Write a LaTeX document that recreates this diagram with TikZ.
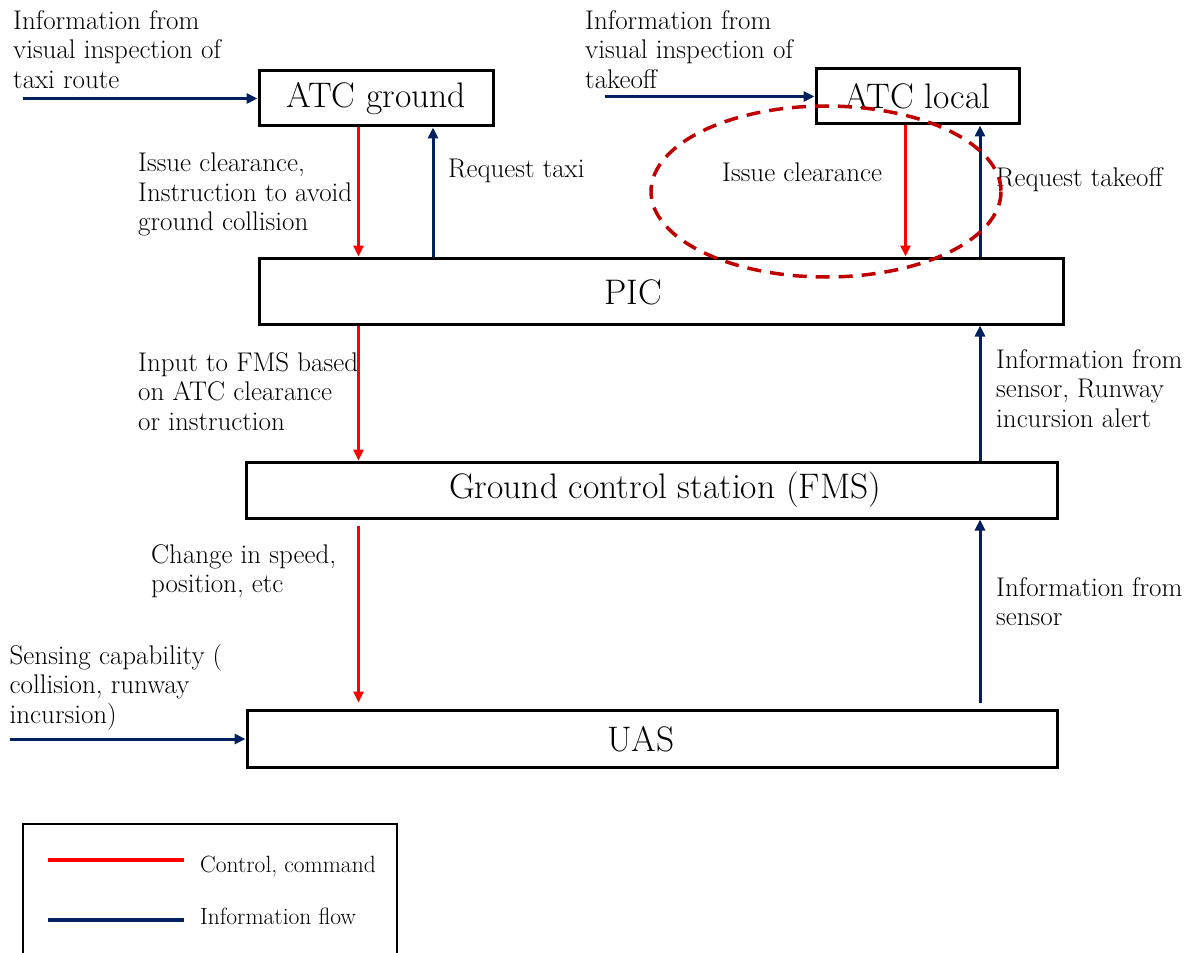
\documentclass[tikz,border=0pt]{standalone}
\usetikzlibrary{arrows.meta}
\definecolor{navy}{RGB}{0,32,96}
\definecolor{dred}{RGB}{192,0,0}
\begin{document}
\begin{tikzpicture}[x=1pt,y=-1pt,
  box/.style={draw, line width=3pt, inner sep=0pt, fill=white},
  ctrl/.style={draw=red, line width=2.5pt, -{Triangle[length=11pt,width=10pt]}},
  info/.style={draw=navy, line width=3pt, -{Triangle[length=11pt,width=10pt]}},
  lbl/.style={anchor=north west, inner sep=0pt, align=left, font=\fontsize{27}{29.5}\selectfont},
  big/.style={font=\fontsize{35.5}{40}\selectfont},
  leg/.style={anchor=base west, inner sep=0pt, font=\fontsize{23.5}{27}\selectfont},
]
\useasboundingbox (0,0) rectangle (1198,952);

% boxes
\node[box, big, minimum width=234pt, minimum height=55pt] (atcg) at (376,98.5) {ATC ground};
\node[box, big, minimum width=203pt, minimum height=55pt] (atcl) at (917.5,96.5) {ATC local};
\node[box, minimum width=804pt, minimum height=66pt] (pic) at (661,291) {};
\node[big] (pictxt) at (633,292) {PIC};
\node[box, minimum width=811pt, minimum height=56pt] (gcs) at (651.5,490) {};
\node[big] (gcstxt) at (665,490) {Ground control station (FMS)};
\node[box, minimum width=810pt, minimum height=57pt] (uas) at (652,738.5) {};
\node[big] (uastxt) at (641,739) {UAS};

% column coordinates
\coordinate (c1) at (358.5,0);
\coordinate (c2) at (433,0);
\coordinate (c3) at (905.5,0);
\coordinate (c4) at (980,0);

% free ends
\coordinate (in1) at (23,98.5);
\coordinate (in2) at (605,96.5);
\coordinate (in3) at (9.5,739);

% connectors
\draw[info] (in1) -- (atcg.west);
\draw[info] (in2) -- (atcl.west);
\draw[info] (in3) -- (in3 -| uas.west);

\draw[ctrl] (atcg.south -| c1) -- (pic.north -| c1);
\draw[info] (pic.north -| c2) -- (atcg.south -| c2);
\draw[ctrl] (atcl.south -| c3) -- (pic.north -| c3);
\draw[info] (pic.north -| c4) -- (atcl.south -| c4);

\draw[ctrl] (pic.south -| c1) -- (gcs.north -| c1);
\draw[info] (gcs.north -| c4) -- (pic.south -| c4);

\draw[ctrl, shorten <=6pt, shorten >=6pt] (gcs.south -| c1) -- (uas.north -| c1);
\draw[info, shorten <=6pt] (uas.north -| c4) -- (gcs.south -| c4);

% labels
\node[lbl] (l1) at (13,10) {Information from\\visual inspection of\\taxi route};
\node[lbl] (l2) at (585,10) {Information from\\visual inspection of\\takeoff};
\node[lbl] (l3) at (138,153) {Issue clearance,\\Instruction to avoid\\ground collision};
\node[lbl] (l4) at (448,159) {Request taxi};
\node[lbl] (l5) at (722,163) {Issue clearance};
\node[lbl] (l6) at (996,167) {Request takeoff};
\node[lbl] (l7) at (138,352) {Input to FMS based\\on ATC clearance\\or instruction};
\node[lbl] (l8) at (996,349) {Information from\\sensor, Runway\\incursion alert};
\node[lbl] (l9) at (151,544) {Change in speed,\\position, etc};
\node[lbl] (l10) at (996,577) {Information from\\sensor};
\node[lbl] (l11) at (9.5,644) {Sensing capability (\\collision, runway\\incursion)};

% legend
\node[draw, line width=1.5pt, anchor=north west, inner sep=0pt, minimum width=374pt, minimum height=160pt] (legend) at (22,823) {};
\draw[red, line width=4pt] (48,860) -- (184,860);
\draw[navy, line width=4pt] (48,920) -- (184,920);
\node[leg] (lg1) at (200,872) {Control, command};
\node[leg] (lg2) at (200,924) {Information flow};

% highlight ellipse
\draw[dred, line width=3.5pt, dash pattern=on 14pt off 9pt] (826,191.5) ellipse [x radius=175, y radius=85.5];
\end{tikzpicture}
\end{document}
